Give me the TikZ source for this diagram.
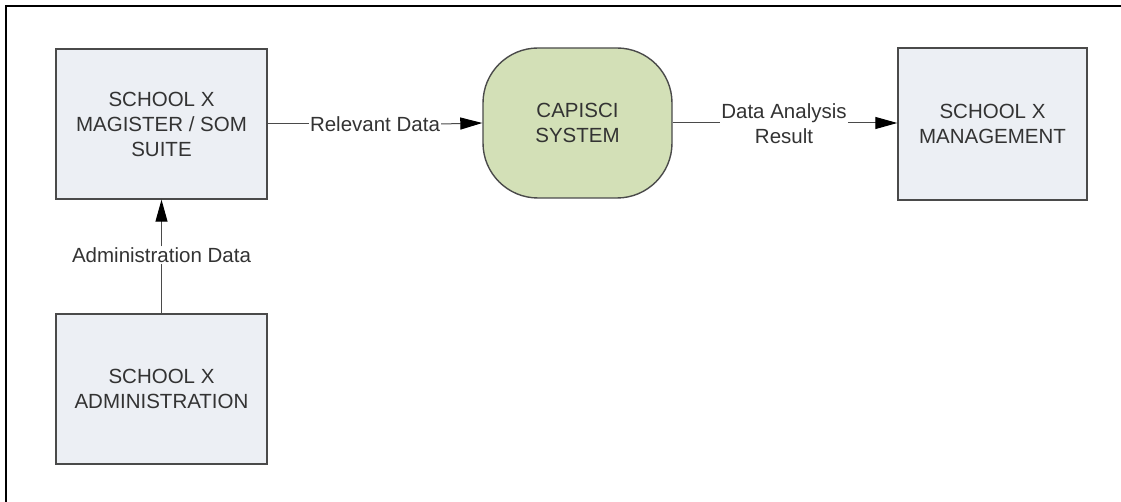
\documentclass[tikz,border=0pt]{standalone}
\usepackage{fontspec}
\setmainfont{Liberation Sans}
\usetikzlibrary{arrows.meta}
\definecolor{boxfill}{HTML}{ECEFF4}
\definecolor{greenfill}{HTML}{D3E0B7}
\definecolor{edge}{HTML}{4A4A4A}
\definecolor{txt}{HTML}{333333}
\begin{document}
\begin{tikzpicture}[x=1pt,y=-1pt,
  entity/.style={draw=edge, line width=1.4pt, fill=boxfill, minimum width=211pt, minimum height=150pt, align=center, inner sep=0pt,
    font=\fontsize{20.5}{25}\selectfont, text=txt},
  process/.style={draw=edge, line width=1.4pt, fill=greenfill, rounded corners=55pt, minimum width=189pt, minimum height=150pt, align=center, inner sep=0pt,
    font=\fontsize{20.5}{25}\selectfont, text=txt},
  lbl/.style={font=\fontsize{20.5}{25}\selectfont, text=txt, align=center, inner sep=1pt},
  flow/.style={draw=edge, line width=1pt, -{Triangle[length=22pt,width=12pt,color=black]}},
  seg/.style={draw=edge, line width=1pt}]
\useasboundingbox (0,0) rectangle (1121,502);
% frame (top and left edges visible)
\draw[line width=2pt, black] (1121,6) -- (6,6) -- (6,502);
\node[entity] (magister) at (161.5,124) {SCHOOL X\\MAGISTER / SOM\\SUITE};
\node[entity] (admin) at (161.5,389) {SCHOOL X\\ADMINISTRATION};
\node[process] (capisci) at (577.5,123) {CAPISCI\\SYSTEM};
\node[entity, minimum width=189pt, minimum height=152pt] (mgmt) at (992.5,124) {SCHOOL X\\MANAGEMENT};
% labels
\node[lbl] (rel) at (375,124) {Relevant Data};
\node[lbl] (dar) at (784,124) {Data Analysis\\Result};
\node[lbl] (adm) at (161.5,255) {Administration Data};
% connectors
\draw[seg] (magister.east) -- (rel.west);
\draw[flow] (rel.east) -- (capisci.west);
\draw[seg] (capisci.east) -- (dar.west |- capisci.east);
\draw[flow] (dar.east |- capisci.east) -- (mgmt.west |- capisci.east);
\draw[seg] (admin.north) -- (adm.south);
\draw[flow] (adm.north) -- (magister.south);
\end{tikzpicture}
\end{document}
